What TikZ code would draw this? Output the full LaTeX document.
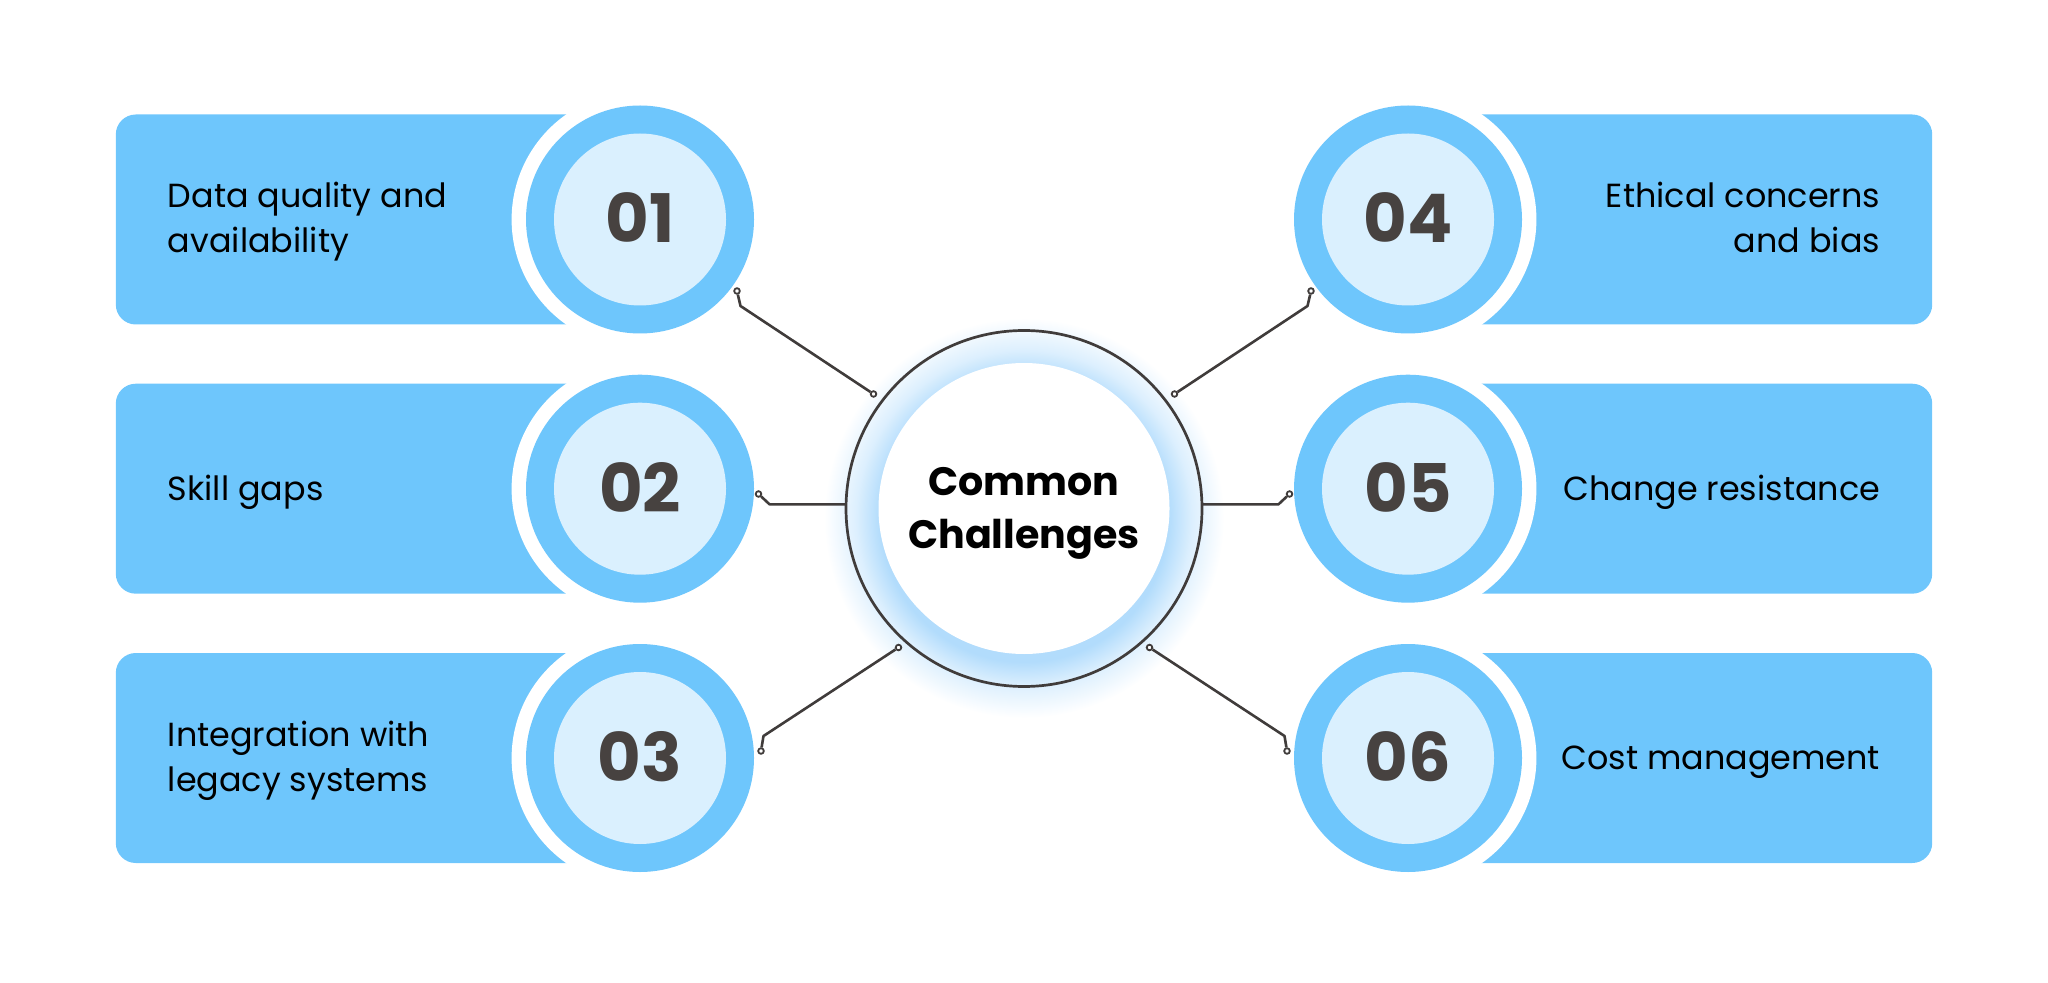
\documentclass[tikz,border=0pt]{standalone}
\usepackage{fontspec}
\setmainfont{Poppins}
\definecolor{bl}{HTML}{6EC6FC}
\definecolor{lt}{HTML}{DAF0FE}
\definecolor{num}{HTML}{474240}
\definecolor{ln}{HTML}{403C3B}
\definecolor{gl}{HTML}{B2DCFC}
\pgfdeclareradialshading{glowshade}{\pgfpoint{0bp}{0bp}}{color(0bp)=(gl); color(18bp)=(gl); color(21bp)=(gl!45!white); color(25bp)=(white); color(50bp)=(white)}
\begin{document}
\begin{tikzpicture}[x=0.5pt,y=-0.5pt,
  box/.style={fill=bl, rounded corners=10pt, minimum width=262.2pt, minimum height=105pt, inner sep=0pt},
  gapc/.style={circle, fill=white, minimum size=128.4pt, inner sep=0pt},
  ringc/.style={circle, fill=bl, minimum size=114pt, inner sep=0pt},
  numc/.style={circle, fill=lt, minimum size=86pt, inner sep=0pt, text=num,
    font=\fontsize{33.5pt}{40pt}\selectfont\bfseries, text height=23.4pt, text depth=0pt},
  lbl/.style={font=\fontsize{16.7pt}{22.5pt}\selectfont, text=black, inner sep=0pt},
  dotc/.style={circle, draw=ln, fill=white, line width=0.9pt, minimum size=2.8pt, inner sep=0pt},
  conn/.style={draw=ln, line width=1.3pt, line join=round}]
\useasboundingbox (0,0) rectangle (2048,983);

% ---------- left side ----------
\node[box] (b1) at (378,219.5) {};
\node[box] (b2) at (378,488.7) {};
\node[box] (b3) at (378,758) {};
\node[gapc] (w1) at (640,219.5) {};
\node[gapc] (w2) at (640,488.7) {};
\node[gapc] (w3) at (640,758) {};
\node[ringc] (r1) at (640,219.5) {};
\node[ringc] (r2) at (640,488.7) {};
\node[ringc] (r3) at (640,758) {};
\node[numc] (n1) at (640,219.5) {01};
\node[numc] (n2) at (640,488.7) {02};
\node[numc] (n3) at (640,758) {03};
\node[lbl, anchor=base west] (t1) at (167.5,208) {\begin{tabular}[t]{@{}l@{}}Data quality and\\availability\end{tabular}};
\node[lbl, anchor=base west] (t2) at (167.5,500.2) {Skill gaps};
\node[lbl, anchor=base west] (t3) at (167.5,746.5) {\begin{tabular}[t]{@{}l@{}}Integration with\\legacy systems\end{tabular}};

% ---------- right side ----------
\node[box] (b4) at (1670,219.5) {};
\node[box] (b5) at (1670,488.7) {};
\node[box] (b6) at (1670,758) {};
\node[gapc] (w4) at (1408,219.5) {};
\node[gapc] (w5) at (1408,488.7) {};
\node[gapc] (w6) at (1408,758) {};
\node[ringc] (r4) at (1408,219.5) {};
\node[ringc] (r5) at (1408,488.7) {};
\node[ringc] (r6) at (1408,758) {};
\node[numc] (n4) at (1408,219.5) {04};
\node[numc] (n5) at (1408,488.7) {05};
\node[numc] (n6) at (1408,758) {06};
\node[lbl, anchor=base east] (t4) at (1880.5,208) {\begin{tabular}[t]{@{}r@{}}Ethical concerns\\and bias\end{tabular}};
\node[lbl, anchor=base east] (t5) at (1880.5,500.2) {Change resistance};
\node[lbl, anchor=base east] (t6) at (1880.5,769.5) {Cost management};

% ---------- centre ----------
\shade[shading=glowshade] (1024,518) circle [radius=100pt];
\node[circle, fill=white, minimum size=145.5pt, inner sep=0pt] (cin) at (1024,508.5) {};
\node[circle, draw=ln, line width=1.35pt, minimum size=178pt, inner sep=0pt] (cout) at (1024,508.5) {};
\node[inner sep=0pt, anchor=base, font=\fontsize{19.8pt}{26.5pt}\selectfont\bfseries] (title) at (1024,495) {\begin{tabular}[t]{@{}c@{}}Common\\Challenges\end{tabular}};

% ---------- connectors ----------
\node[dotc] (d1a) at (737,291) {};
\node[dotc] (d1b) at (873.5,394) {};
\node[dotc] (d2a) at (758.5,494) {};
\coordinate (e2) at (846,504.3);
\node[dotc] (d3a) at (898.5,647.5) {};
\node[dotc] (d3b) at (761,751) {};
\node[dotc] (d4a) at (1311,291) {};
\node[dotc] (d4b) at (1174.5,394) {};
\node[dotc] (d5a) at (1289.5,494) {};
\coordinate (e5) at (1202,504.3);
\node[dotc] (d6a) at (1149.5,647.5) {};
\node[dotc] (d6b) at (1287,751) {};

\draw[conn] (d1a) -- (740.5,306) -- (d1b);
\draw[conn] (d2a) -- (769.5,504.3) -- (e2);
\draw[conn] (d3a) -- (763.5,736) -- (d3b);
\draw[conn] (d4a) -- (1307.5,306) -- (d4b);
\draw[conn] (d5a) -- (1278.5,504.3) -- (e5);
\draw[conn] (d6a) -- (1284.5,736) -- (d6b);
\end{tikzpicture}
\end{document}
